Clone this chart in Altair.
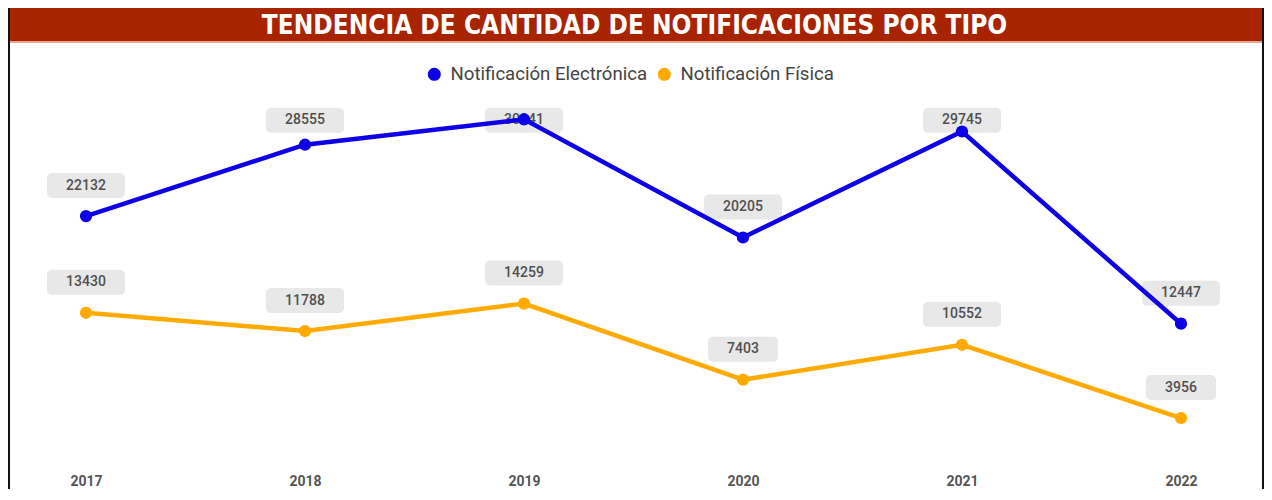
import altair as alt
import pandas as pd

years = [2017, 2018, 2019, 2020, 2021, 2022]
electronica = [22132, 28555, 30841, 20205, 29745, 12447]
fisica = [13430, 11788, 14259, 7403, 10552, 3956]
series_names = ["Notificación Electrónica", "Notificación Física"]
series_colors = ["#0D00E6", "#FFAA00"]
title_text = "TENDENCIA DE CANTIDAD DE NOTIFICACIONES POR TIPO"

rows = []
for name, vals in zip(series_names, [electronica, fisica]):
    for y, v in zip(years, vals):
        rows.append({"year": y, "value": v, "serie": name, "label": str(v)})
df = pd.DataFrame(rows)

W, H = 1256, 454
PX_PER_YEAR = 219
x0 = 2017 - 78 / PX_PER_YEAR
x_scale = alt.Scale(domain=[x0, x0 + W / PX_PER_YEAR], nice=False, zero=False)
y_scale = alt.Scale(domain=[0, H * 90], nice=False, zero=True)
color_scale = alt.Scale(domain=series_names, range=series_colors)

LABEL_FONT = "Roboto, 'DejaVu Sans', sans-serif"
TITLE_FONT = "'DejaVu Sans Condensed', 'DejaVu Sans', sans-serif"

base = alt.Chart(df).transform_calculate(
    ly="min(datum.value + 2745, 30760)",
    nchar="length(datum.label)",
)

x_enc = alt.X(
    "year:Q",
    scale=x_scale,
    axis=alt.Axis(
        values=years,
        format="d",
        title=None,
        domain=False,
        ticks=False,
        grid=False,
        labelFont=LABEL_FONT,
        labelFontSize=14,
        labelFontWeight="bold",
        labelColor="#555555",
        labelPadding=12,
    ),
)

rect5 = base.transform_filter("datum.nchar >= 5").mark_rect(
    color="#E8E8E8", cornerRadius=5, xOffset=-39, x2Offset=39, yOffset=-12.5, y2Offset=12.5
).encode(
    x=x_enc, x2="year:Q",
    y=alt.Y("ly:Q", scale=y_scale, axis=None), y2="ly:Q",
)
rect4 = base.transform_filter("datum.nchar < 5").mark_rect(
    color="#E8E8E8", cornerRadius=5, xOffset=-35, x2Offset=35, yOffset=-12.5, y2Offset=12.5
).encode(
    x=x_enc, x2="year:Q",
    y=alt.Y("ly:Q", scale=y_scale, axis=None), y2="ly:Q",
)
labels = base.mark_text(
    font=LABEL_FONT, fontSize=14, color="#505050", fontWeight=500, baseline="middle", align="center"
).encode(
    x=x_enc,
    y=alt.Y("ly:Q", scale=y_scale, axis=None),
    text="label:N",
)

color_enc = alt.Color(
    "serie:N",
    scale=color_scale,
    legend=alt.Legend(
        title=None,
        orient="none",
        legendX=417,
        legendY=57,
        direction="horizontal",
        symbolType="circle",
        symbolSize=170,
        symbolStrokeWidth=0,
        labelFont=LABEL_FONT,
        labelFontSize=18.6,
        labelColor="#444444",
        labelOffset=7,
        labelLimit=0,
        columnPadding=7,
    ),
)

lines = base.mark_line(strokeWidth=4.5).encode(
    x=x_enc,
    y=alt.Y("value:Q", scale=y_scale, axis=None),
    color=color_enc,
)
points = base.mark_circle(size=150, opacity=1).encode(
    x=x_enc,
    y=alt.Y("value:Q", scale=y_scale, axis=None),
    color=alt.Color("serie:N", scale=color_scale, legend=None),
)

deco = alt.Chart(pd.DataFrame({"t": [title_text]}))
banner = deco.mark_rect(color="#A82400").encode(
    x=alt.value(0), x2=alt.value(W), y=alt.value(0), y2=alt.value(33)
)
band = deco.mark_rect(color="#EBA596").encode(
    x=alt.value(0), x2=alt.value(W), y=alt.value(33), y2=alt.value(35)
)
border_l = deco.mark_rect(color="#111111").encode(
    x=alt.value(0), x2=alt.value(2), y=alt.value(0), y2=alt.value(H + 60)
)
border_r = deco.mark_rect(color="#111111").encode(
    x=alt.value(W - 2), x2=alt.value(W), y=alt.value(0), y2=alt.value(H + 60)
)
title = deco.mark_text(
    font=TITLE_FONT, fontSize=26, fontWeight="bold", color="white", baseline="middle", align="center"
).encode(x=alt.value(626.5), y=alt.value(17.5), text="t:N")

chart = alt.layer(
    banner, band, border_l, border_r, title, rect5, rect4, labels, lines, points
).properties(
    width=W,
    height=H,
    autosize=alt.AutoSizeParams(type="none"),
    padding={"left": 0, "top": 0, "right": 0, "bottom": 27},
    background="white",
).configure_view(strokeWidth=0)

chart.save("out.html", embed_options={"renderer": "svg", "actions": False})
